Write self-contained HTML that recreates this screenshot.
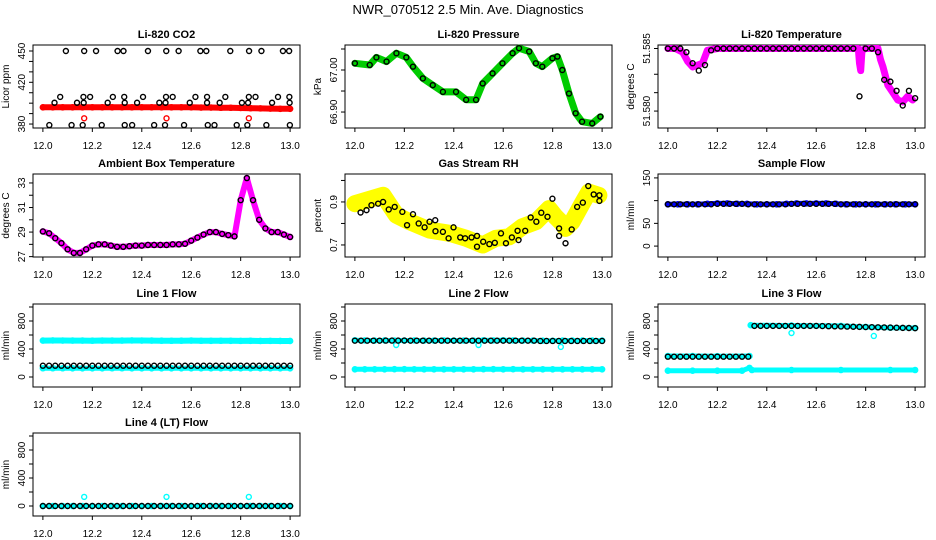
<!DOCTYPE html>
<html><head><meta charset="utf-8"><style>
html,body{margin:0;padding:0;background:#fff;}
svg{display:block;font-family:"Liberation Sans",Arial,sans-serif;}
</style></head><body>
<svg id="chart" width="936" height="540" viewBox="0 0 936 540">
<text x="468" y="14" text-anchor="middle" font-size="13">NWR_070512  2.5 Min. Ave. Diagnostics</text>
</svg>
<script>
// ---- shared data ----
const grid41 = [12,12.025,12.05,12.075,12.1,12.125,12.15,12.175,12.2,12.225,12.25,12.275,12.3,12.325,12.35,12.375,12.4,12.425,12.45,12.475,12.5,12.525,12.55,12.575,12.6,12.625,12.65,12.675,12.7,12.725,12.75,12.775,12.8,12.825,12.85,12.875,12.9,12.925,12.95,12.975,13];
const grid26 = [12,12.04,12.08,12.12,12.16,12.2,12.24,12.28,12.32,12.36,12.4,12.44,12.48,12.52,12.56,12.6,12.64,12.68,12.72,12.76,12.8,12.84,12.88,12.92,12.96,13];
const xTicks = [12.0,12.2,12.4,12.6,12.8,13.0];
const xTickLabels = ['12.0','12.2','12.4','12.6','12.8','13.0'];
const outlierT = [12.167,12.5,12.833];

// CO2
const co2Red = [396,396,396,396,396,396,396,396,396,396,396,396,396,396,396,396,395.8,395.8,395.6,395.6,395.4,395.2,395,394.8,394.6,394.6];
const co2RedOut = [385.5,385.5,385.5];
const co2BlackT = [12.093,12.167,12.215,12.302,12.326,12.425,12.499,12.549,12.637,12.661,12.758,12.834,12.884,12.971,12.996,
 12.026,12.116,12.161,12.238,12.331,12.361,12.45,12.494,12.571,12.667,12.694,12.784,12.827,12.904,12.999,
 12.07,12.164,12.191,12.283,12.329,12.405,12.498,12.525,12.617,12.664,12.738,12.833,12.86,12.951,12.997,
 12.047,12.138,12.165,12.262,12.331,12.381,12.471,12.496,12.594,12.664,12.715,12.805,12.83,12.927,12.998];
const co2Black = [450,450,450,450,450,450,450,450,450,450,450,450,450,450,450,
 379,379,379,379,379,379,379,379,379,379,379,379,379,379,379,
 406,406,406,406,406,406,406,406,406,406,406,406,406,406,406,
 400.4,400.4,400.4,400.4,400.4,400.4,400.4,400.4,400.4,400.4,400.4,400.4,400.4,400.4,400.4];

// Pressure
const presT = [12,12.06,12.087,12.128,12.168,12.208,12.235,12.275,12.315,12.356,12.409,12.45,12.49,12.517,12.557,12.597,12.638,12.664,12.705,12.732,12.758,12.799,12.819,12.839,12.866,12.893,12.919,12.96,12.993];
const presV = [67.016,67.012,67.03,67.02,67.04,67.03,67.008,66.98,66.964,66.948,66.948,66.929,66.929,66.968,66.992,67.016,67.04,67.052,67.044,67.016,67.008,67.028,67.032,67.0,66.944,66.897,66.877,66.873,66.889];

// Li-820 temperature
const ltempT = [12,12.03,12.06,12.08,12.1,12.12,12.14,12.16,12.2,12.4,12.6,12.77,12.775,12.78,12.785,12.8,12.85,12.86,12.87,12.89,12.91,12.93,12.95,12.97,12.99];
const ltempV = [51.5834,51.5834,51.5832,51.5827,51.5824,51.5825,51.5826,51.5833,51.5834,51.5834,51.5834,51.5834,51.5826,51.5822,51.5833,51.5834,51.5834,51.5828,51.5824,51.5814,51.5810,51.5806,51.5805,51.5808,51.5806];
const ltempBlack = [51.5834,51.5834,51.5834,51.5832,51.5826,51.5822,51.5825,51.5833,51.5834,51.5834,51.5834,51.5834,51.5834,51.5834,51.5834,51.5834,51.5834,51.5834,51.5834,51.5834,51.5834,51.5834,51.5834,51.5834,51.5834,51.5834,51.5834,51.5834,51.5834,51.5834,51.5834,51.5808,51.5834,51.5834,51.5832,51.5817,51.5816,51.5811,51.5803,51.5811,51.5807];

// Ambient box temperature
const ambV = [29.05,28.9,28.5,28.1,27.6,27.3,27.3,27.6,27.9,28.0,28.0,27.9,27.8,27.8,27.85,27.9,27.9,27.95,27.95,27.95,27.95,28.0,28.0,28.05,28.3,28.55,28.8,29.0,29.0,28.85,28.75,28.65,31.6,33.4,31.6,30.0,29.3,29.0,29.0,28.8,28.6];

// Gas stream RH
const rhYellowT = [12,12.114,12.168,12.221,12.302,12.383,12.45,12.517,12.57,12.624,12.678,12.732,12.785,12.812,12.839,12.852,12.879,12.919,12.946,12.987];
const rhYellowV = [0.892,0.931,0.838,0.808,0.769,0.754,0.731,0.7,0.731,0.738,0.785,0.808,0.869,0.831,0.8,0.777,0.808,0.892,0.946,0.931];
const rhBlackT = [12.023,12.047,12.067,12.094,12.114,12.137,12.161,12.192,12.211,12.235,12.258,12.282,12.302,12.325,12.326,12.356,12.379,12.399,12.426,12.446,12.472,12.494,12.494,12.519,12.544,12.566,12.591,12.611,12.635,12.658,12.662,12.689,12.711,12.734,12.754,12.779,12.799,12.826,12.826,12.852,12.877,12.899,12.922,12.944,12.966,12.989,12.989];
const rhBlackV = [0.851,0.862,0.885,0.892,0.9,0.865,0.877,0.854,0.792,0.843,0.8,0.782,0.808,0.815,0.764,0.761,0.731,0.782,0.735,0.731,0.735,0.742,0.692,0.715,0.704,0.71,0.754,0.708,0.735,0.766,0.723,0.766,0.828,0.808,0.85,0.831,0.915,0.777,0.742,0.708,0.772,0.877,0.897,0.974,0.935,0.931,0.905];

// Sample flow
const sampleBlue = [92,92,92,92,93,94,94,93,93,92,92,92,93,94,94,94,94,93,92,92,92,92,92,92,92,92];
const sampleBlack = [92,92,92,92,92,92,92,92,93,93,93,93,93,92,92,92,92,92,92,92,93,93,93,93,93,93,93,93,92,92,92,92,92,92,92,92,92,92,92,92,92];

// Line 1 flow
const l1CyanHi = [520,522,521,520,520,519,521,520,520,522,521,520,519,518,519,520,518,517,518,517,516,517,515,516,515,515];
const l1CyanLo = [125,125,125,124,124,124,124,125,125,124,124,124,124,124,124,124,124,124,124,124,124,124,124,124,124,124];
const l1Black = [161,161,161,161,161,161,161,161,161,161,161,161,161,161,161,161,161,161,161,161,161,161,161,161,161,161,161,161,161,161,161,161,161,161,161,161,161,161,161,161,161];

// Line 2 flow
const l2CyanHi = [525,522,521,522,520,521,522,520,521,522,521,520,521,524,523,525,522,520,520,519,518,520,520,521,520,520];
const l2CyanLo = [110,110,110,110,112,112,110,110,110,110,110,110,110,112,112,110,112,110,110,110,110,110,110,110,110,110];
const l2CyanOut = [457,457,430];
const l2Black = [519,519,519,519,519,520,520,520,521,519,519,519,519,519,519,519,519,519,519,519,519,519,519,519,519,519,519,519,519,519,515,515,515,515,515,515,515,515,515,515,515];

// Line 3 flow
const l3CyanAT = [12,12.1,12.2,12.33];
const l3CyanA = [300,300,297,300];
const l3CyanBT = [12.335,12.5,12.7,12.8,12.9,13];
const l3CyanB = [740,735,730,715,705,700];
const l3CyanLoT = [12,12.1,12.2,12.3,12.33,12.34,12.5,12.7,12.9,13];
const l3CyanLo = [90,90,90,90,130,100,100,100,100,100];
const l3CyanOutT = [12.5,12.833];
const l3CyanOut = [628,586];
const l3Black = [290,290,290,290,290,290,290,290,290,290,290,290,290,290,730,730,730,730,730,730,730,730,730,730,730,728,726,724,722,720,718,716,714,712,710,708,706,704,702,700,698];

// Line 4 flow
const l4Cyan = [0,0,0,0,0,0,0,0,0,0,0,0,0,0,0,0,0,0,0,0,0,0,0,0,0,0];
const l4CyanOut = [130,130,130];
const l4Black = [0,0,0,0,0,0,0,0,0,0,0,0,0,0,0,0,0,0,0,0,0,0,0,0,0,0,0,0,0,0,0,0,0,0,0,0,0,0,0,0,0];

const NS = 'http://www.w3.org/2000/svg';
const svg = document.getElementById('chart');
const colX = [33,345,658], rowY = [45,174,304,433], BW = 267, BH = 83;
const XMIN = 11.96, XMAX = 13.04;

function mk(tag, attrs, parent){
  const e = document.createElementNS(NS, tag);
  for (const k in attrs) e.setAttribute(k, attrs[k]);
  (parent || svg).appendChild(e);
  return e;
}

function makePanel(col,row,title,ylab,ylim,yticks,ylabels,key){
  const p = {x0:colX[col], y0:rowY[row], ylim:ylim};
  p.sx = t => p.x0 + (t - XMIN) / (XMAX - XMIN) * BW;
  p.sy = v => p.y0 + BH - (v - ylim[0]) / (ylim[1] - ylim[0]) * BH;
  const g = mk('g', {});
  
  
  p.g = g;
  const box = mk('rect', {x:p.x0, y:p.y0, width:BW, height:BH, fill:'none', stroke:'#000', 'stroke-width':1}, g);
  
  
  const tt = mk('text', {x:p.x0 + BW/2, y:p.y0 - 7, 'text-anchor':'middle', 'font-size':11, 'font-weight':'bold'}, g);
  tt.textContent = title;
  
  
  // x axis
  const xa = mk('g', {}, g);
  
  
  const by = p.y0 + BH;
  xTicks.forEach((t,i) => {
    mk('line', {x1:p.sx(t), x2:p.sx(t), y1:by, y2:by+4, stroke:'#000'}, xa);
    const lb = mk('text', {x:p.sx(t), y:by+21, 'text-anchor':'middle', 'font-size':10}, xa);
    lb.textContent = xTickLabels[i];
    
    
  });
  // y axis
  const ya = mk('g', {}, g);
  
  
  const ax = p.x0;
  yticks.forEach((v,i) => {
    mk('line', {x1:ax-4, x2:ax, y1:p.sy(v), y2:p.sy(v), stroke:'#000'}, ya);
    if (ylabels[i]) {
      const lx = ax - 8, ly = p.sy(v);
      const lb = mk('text', {x:lx, y:ly, 'text-anchor':'middle', 'font-size':10, transform:'rotate(-90 '+lx+' '+ly+')'}, ya);
      lb.textContent = ylabels[i];
      
      
    }
  });
  const yx = p.x0 - 24, yy = p.y0 + BH/2;
  const yl = mk('text', {x:yx, y:yy, 'text-anchor':'middle', 'font-size':10, transform:'rotate(-90 '+yx+' '+yy+')'}, g);
  yl.textContent = ylab;
  
  
  return p;
}

function band(p, ts, vs, color, w, name){
  const pts = ts.map((t,i) => p.sx(t).toFixed(1) + ',' + p.sy(vs[i]).toFixed(1)).join(' ');
  const pl = mk('polyline', {points:pts, fill:'none', stroke:color, 'stroke-width':w, 'stroke-linejoin':'round', 'stroke-linecap':'round'}, p.g);
  
  
  ts.forEach((t,i) => {
    const c = mk('circle', {cx:p.sx(t), cy:p.sy(vs[i]), r:2.6, fill:'none', stroke:color, 'stroke-width':1.4}, p.g);
    
    
  });
}
function pts(p, ts, vs, color, name){
  ts.forEach((t,i) => {
    const c = mk('circle', {cx:p.sx(t), cy:p.sy(vs[i]), r:2.5, fill:'none', stroke:color, 'stroke-width':1.4}, p.g);
    
    
  });
}

const flowTicks = [0,200,400,600,800,1000], flowLabels = ['0','','400','','800',''], flowLim = [-143,1043];

// Panel 1: CO2
let p = makePanel(0,0,'Li-820 CO2','Licor ppm',[376.2,455.75],[380,390,400,410,420,430,440,450],['380','','','','420','','','450'],'co2');
band(p, grid26, co2Red, '#ff0000', 6, 'co2-red-series');
pts(p, outlierT, co2RedOut, '#ff0000', 'co2-red-outlier');
pts(p, co2BlackT, co2Black, '#000', 'co2-black-point');

// Panel 2: Pressure
p = makePanel(1,0,'Li-820 Pressure','kPa',[66.862,67.0595],[66.90,66.95,67.00,67.05],['66.90','','67.00',''],'pressure');
band(p, presT, presV, '#00cc00', 7, 'pressure-green-series');
pts(p, presT, presV, '#000', 'pressure-black-point');

// Panel 3: Li temp
p = makePanel(2,0,'Li-820 Temperature','degrees C',[51.57908,51.58359],[51.580,51.581,51.582,51.5834],['51.580','','','51.585'],'li-temp');
band(p, ltempT, ltempV, '#ff00ff', 7, 'li-temp-magenta-series');
pts(p, grid41, ltempBlack, '#000', 'li-temp-black-point');

// Panel 4: Ambient
p = makePanel(0,1,'Ambient Box Temperature','degrees C',[26.97,33.73],[27,28,29,30,31,32,33],['27','','29','','31','','33'],'ambient');
band(p, grid41, ambV, '#ff00ff', 6, 'ambient-magenta-series');
pts(p, grid41, ambV, '#000', 'ambient-black-point');

// Panel 5: RH
p = makePanel(1,1,'Gas Stream RH','percent',[0.644,1.03],[0.7,0.8,0.9,1.0],['0.7','','0.9',''],'rh');
band(p, rhYellowT, rhYellowV, '#ffff00', 17, 'rh-yellow-series');
pts(p, rhBlackT, rhBlackV, '#000', 'rh-black-point');

// Panel 6: Sample flow
p = makePanel(2,1,'Sample Flow','ml/min',[-24,158.6],[0,50,100,150],['0','50','','150'],'sample-flow');
band(p, grid26, sampleBlue, '#0000ff', 5, 'sample-flow-blue-series');
pts(p, grid41, sampleBlack, '#000', 'sample-flow-black-point');

// Panel 7: Line 1
p = makePanel(0,2,'Line 1 Flow','ml/min',flowLim,flowTicks,flowLabels,'line1');
band(p, grid26, l1CyanHi, '#00ffff', 6, 'line1-cyan-high');
band(p, grid26, l1CyanLo, '#00ffff', 5, 'line1-cyan-low');
pts(p, grid41, l1Black, '#000', 'line1-black-point');

// Panel 8: Line 2
p = makePanel(1,2,'Line 2 Flow','ml/min',flowLim,flowTicks,flowLabels,'line2');
band(p, grid26, l2CyanHi, '#00ffff', 5, 'line2-cyan-high');
band(p, grid26, l2CyanLo, '#00ffff', 5, 'line2-cyan-low');
pts(p, outlierT, l2CyanOut, '#00ffff', 'line2-cyan-outlier');
pts(p, grid41, l2Black, '#000', 'line2-black-point');

// Panel 9: Line 3
p = makePanel(2,2,'Line 3 Flow','ml/min',flowLim,flowTicks,flowLabels,'line3');
band(p, l3CyanAT, l3CyanA, '#00ffff', 5, 'line3-cyan-early');
band(p, l3CyanBT, l3CyanB, '#00ffff', 5, 'line3-cyan-late');
band(p, l3CyanLoT, l3CyanLo, '#00ffff', 5, 'line3-cyan-low');
pts(p, l3CyanOutT, l3CyanOut, '#00ffff', 'line3-cyan-outlier');
pts(p, grid41, l3Black, '#000', 'line3-black-point');

// Panel 10: Line 4
p = makePanel(0,3,'Line 4 (LT) Flow','ml/min',flowLim,flowTicks,flowLabels,'line4');
band(p, grid26, l4Cyan, '#00ffff', 4, 'line4-cyan-series');
pts(p, outlierT, l4CyanOut, '#00ffff', 'line4-cyan-outlier');
pts(p, grid41, l4Black, '#000', 'line4-black-point');
</script>
</body></html>
